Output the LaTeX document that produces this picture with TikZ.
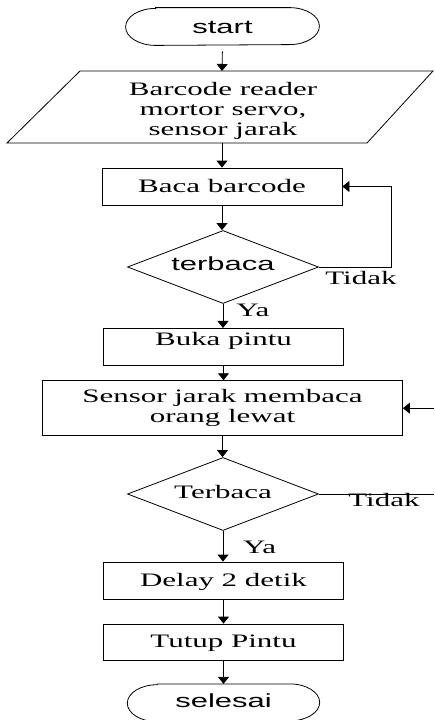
\documentclass[tikz,border=0pt]{standalone}
\usepackage{fontspec}
\setmainfont{Liberation Serif}[FakeStretch=1.63]
\setsansfont{Liberation Sans}[FakeStretch=1.63]
\usetikzlibrary{arrows.meta,shapes.geometric}
\newcommand\termpath[1]{%
  \draw ([xshift=30pt]#1.north west) -- ([xshift=-30pt]#1.north east)
    arc[start angle=90, end angle=-90, x radius=30pt, y radius=18.5pt]
    -- ([xshift=30pt]#1.south west)
    arc[start angle=270, end angle=90, x radius=30pt, y radius=18.5pt] -- cycle;}
\begin{document}
\begin{tikzpicture}[x=1pt,y=-1pt,
  font=\fontsize{19pt}{20pt}\selectfont,
  line width=0.8pt,
  arr/.style={-{Triangle[length=7pt,width=11pt]}},
  box/.style={draw, rectangle, inner sep=0pt, minimum width=240pt, minimum height=37pt, text height=13pt, text depth=1pt},
  dec/.style={draw, diamond, aspect=2.6, inner sep=0pt, minimum width=191pt, minimum height=73pt},
  term/.style={inner sep=0pt, minimum width=193pt, minimum height=37pt, font=\sffamily\fontsize{19pt}{20pt}\selectfont},
  lbl/.style={inner sep=0pt, anchor=base west}
]
\useasboundingbox (0,0) rectangle (434,720);

% start
\node[term, text height=13.6pt, text depth=0pt] (start) at (222.5,26.5) {start};
\termpath{start}

% input/output parallelogram
\draw (80,71) -- (433,71) -- (367,143) -- (7,143) -- cycle;
\node[inner sep=0pt, align=center] (io) at (223,110.6) {Barcode reader\\mortor servo,\\sensor jarak};
\coordinate (ioN) at (222,71);
\coordinate (ioS) at (222,143);

% process boxes
\node[box] (baca) at (222,186.5) {Baca barcode};
\node[dec, font=\sffamily\fontsize{19pt}{20pt}\selectfont, text height=13.6pt, text depth=6.2pt] (d1) at (223,267) {terbaca};
\node[box, minimum height=36.7pt, text depth=15pt] (buka) at (223.5,346.7) {Buka pintu};
\node[draw, rectangle, inner sep=0pt, minimum width=360pt, minimum height=55pt, align=center] (sensor) at (222.5,408.2) {Sensor jarak membaca\\orang lewat};
\node[dec, text height=13pt, text depth=3.8pt] (d2) at (223,494) {Terbaca};
\node[box, text depth=2pt] (delay) at (223.5,580.5) {Delay 2 detik};
\node[box, minimum height=36pt, text depth=2.4pt] (tutup) at (223.5,642) {Tutup Pintu};

% end
\node[term, minimum width=191.6pt, text height=13.6pt, text depth=3.8pt] (end) at (223.5,702.8) {selesai};
\termpath{end}

% connectors
\draw[arr, shorten <=6pt] (start.south) -- (ioN);
\draw[arr] (ioS) -- (ioS |- baca.north);
\draw[arr] (baca.south) -- (baca.south |- d1.north);
\draw[arr] (d1.east) -- ++(72.4,0) |- (baca.east);
\draw[arr] (d1.south) -- (d1.south |- buka.north);
\draw[arr] (buka.south) -- (buka.south |- sensor.north);
\coordinate (inR) at (434,408.2);
\draw[arr] (inR) -- (sensor.east);
\draw[arr] (sensor.south) -- (sensor.south |- d2.north);
\coordinate (outR) at (434,494);
\draw (d2.east) -- (outR);
\draw[arr] (d2.south) -- (d2.south |- delay.north);
\draw[arr] (delay.south) -- (delay.south |- tutup.north);
\draw[arr] (tutup.south) -- (tutup.south |- end.north);

% labels
\node[lbl] (t1) at (325,284) {Tidak};
\node[lbl] (y1) at (236,316.7) {Ya};
\node[lbl] (t2) at (348,506.7) {Tidak};
\node[lbl] (y2) at (242.7,553.3) {Ya};
\end{tikzpicture}
\end{document}
